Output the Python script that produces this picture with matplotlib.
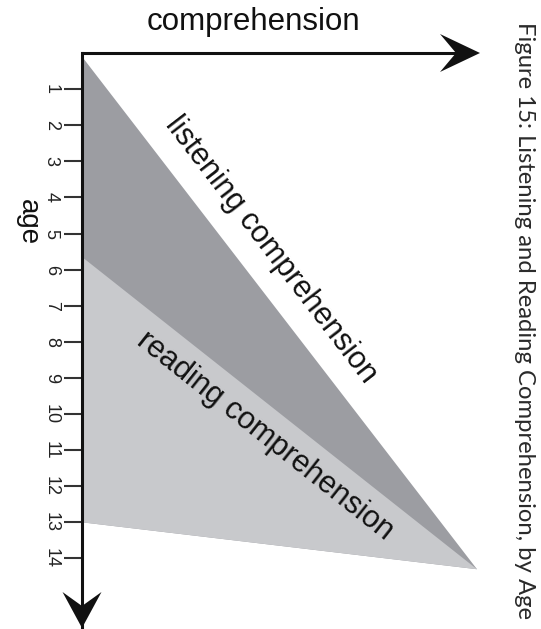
import numpy as np
import matplotlib
matplotlib.use("Agg")
import matplotlib.pyplot as plt
from matplotlib.patches import Polygon
from matplotlib.transforms import IdentityTransform

# chart data: ages on the vertical axis, comprehension on the horizontal one
ages = list(range(1, 15))
age_labels = [str(a) for a in ages]

# listening comprehension area (comprehension, age)
listening_comp = [0.0, 10.0, 0.0]
listening_age = [0.1, 14.3, 13.0]

# reading comprehension area (comprehension, age)
reading_comp = [0.0, 10.0, 0.0]
reading_age = [5.65, 14.3, 13.0]

x_axis_label = "comprehension"
y_axis_label = "age"
listening_label = "listening comprehension"
reading_label = "reading comprehension"
caption = "Figure 15: Listening and Reading Comprehension, by Age"

W, H = 541, 629
DPI = 100
PX_X = 39.5   # pixels per comprehension unit
PX_Y = 36.1   # pixels per year
X0, Y0 = 82, 53  # pixel position of the origin

DARK = "#9c9da2"
LIGHT = "#c8c9cc"
INK = "#111111"

plt.rcParams["font.family"] = ["Liberation Sans", "DejaVu Sans"]

fig = plt.figure(figsize=(W / DPI, H / DPI), dpi=DPI)
ax = fig.add_axes([X0 / W, 0, (W - X0) / W, (H - Y0) / H])
ax.set_xlim(0, (W - X0) / PX_X)
ax.set_ylim((H - Y0) / PX_Y, 0)


# draw a notched arrow head in pixel units at a data point
def arrow_head(ax, tip, direction, length=38, width=38, notch=15):
    t = ax.transData.transform(tip)
    d = np.array(direction, dtype=float)
    d = d / np.linalg.norm(d)
    n = np.array([-d[1], d[0]])
    verts = [
        t,
        t - length * d + width / 2 * n,
        t - (length - notch) * d,
        t - length * d - width / 2 * n,
    ]
    ax.add_patch(Polygon(verts, closed=True, color=INK, lw=0,
                         transform=IdentityTransform(), clip_on=False, zorder=6))


# angle of a segment on screen
def screen_angle(ax, p1, p2):
    a = ax.transData.transform(p1)
    b = ax.transData.transform(p2)
    return np.degrees(np.arctan2(b[1] - a[1], b[0] - a[0]))


# areas
ax.fill(listening_comp, listening_age, color=DARK, lw=0, zorder=1)
ax.fill(reading_comp, reading_age, color=LIGHT, lw=0, zorder=2)

# axes look
for side in ["top", "right", "bottom"]:
    ax.spines[side].set_visible(False)
ax.spines["left"].set_linewidth(2.2)
ax.spines["left"].set_color(INK)
ax.spines["left"].set_zorder(5)
ax.set_xticks([])
ax.set_yticks(ages)
ax.set_yticklabels(age_labels, rotation=-90, fontsize=13, color="#222222")
ax.tick_params(axis="y", direction="out", length=13, width=1.5,
               color="#333333", pad=3)
for lab in ax.get_yticklabels():
    lab.set_verticalalignment("center")

# horizontal axis arrow
x_end = (480 - X0) / PX_X
ax.plot([-0.03, x_end - 0.5], [0, 0], color=INK, lw=2.2, clip_on=False,
        solid_capstyle="butt", zorder=5)
arrow_head(ax, (x_end, 0), (1, 0), length=40, width=38, notch=16)

# vertical axis arrow head
arrow_head(ax, (0, (628 - Y0) / PX_Y), (0, -1), length=36, width=39, notch=14)

# axis titles
ax.text(4.35, -0.86, x_axis_label, fontsize=22.5, color=INK,
        ha="center", va="center", clip_on=False)
ax.text(-1.37, 4.68, y_axis_label, fontsize=20, color=INK, rotation=-90,
        ha="center", va="center", clip_on=False)

# labels along the area edges
ang_l = screen_angle(ax, (listening_comp[0], listening_age[0]),
                     (listening_comp[1], listening_age[1]))
ax.text(4.78, 5.45, listening_label, fontsize=22, color=INK, rotation=ang_l,
        rotation_mode="anchor", ha="center", va="center", zorder=7)
ang_r = screen_angle(ax, (reading_comp[0], reading_age[0]),
                     (reading_comp[1], reading_age[1]))
ax.text(4.63, 10.61, reading_label, fontsize=22, color=INK, rotation=ang_r,
        rotation_mode="anchor", ha="center", va="center", zorder=7)

# caption on the right side
fig.text(524 / W, 1 - 320 / H, caption, fontsize=17.2, rotation=-90,
         family=["Lato", "DejaVu Sans"], color="#2a2a2a",
         ha="center", va="center")

fig.savefig("out.png", dpi=DPI)
